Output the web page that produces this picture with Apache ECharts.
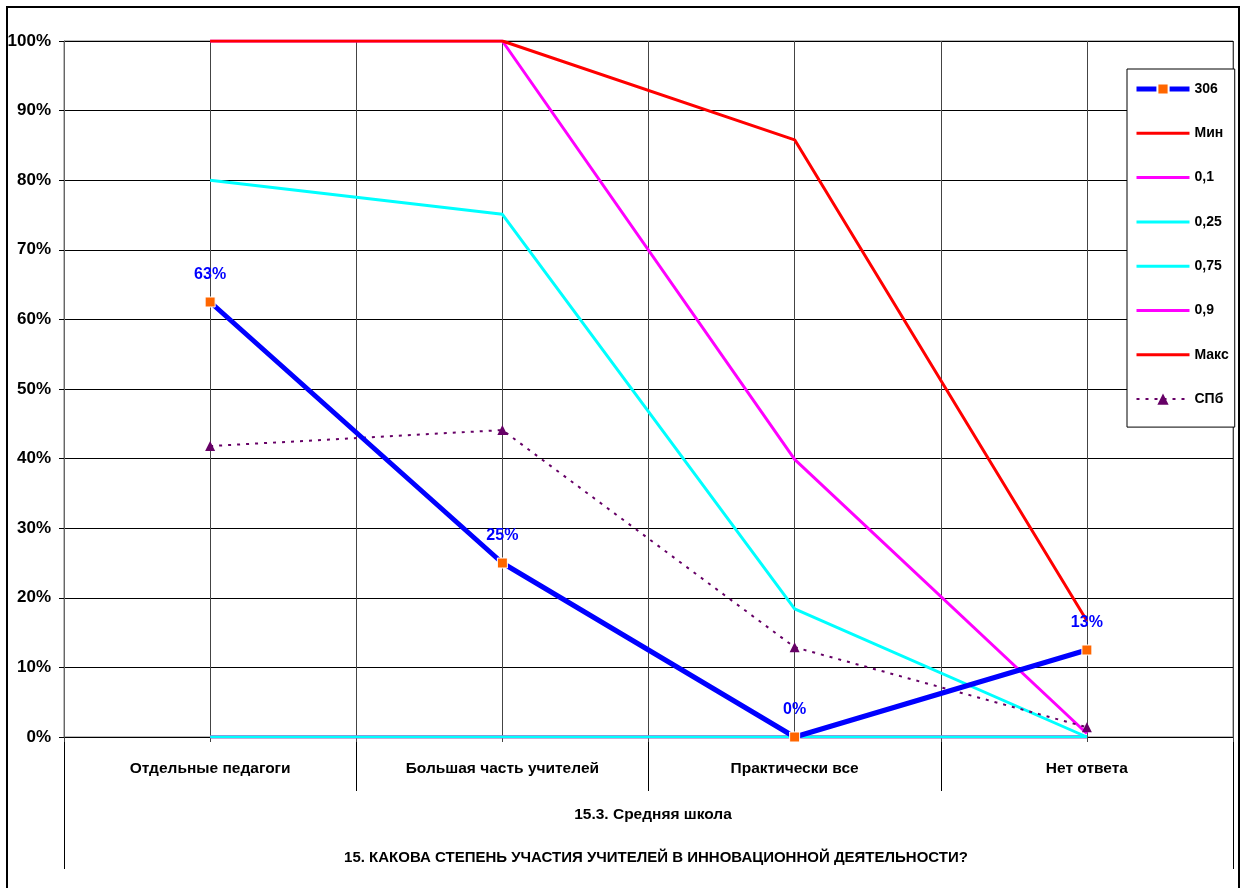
<!DOCTYPE html>
<html><head><meta charset="utf-8">
<script src="https://cdn.jsdelivr.net/npm/echarts@6/dist/echarts.min.js"></script>
<style>html,body{margin:0;padding:0;background:#fff}#c{width:1245px;height:888px}</style>
</head><body><div id="c"></div>
<script>
const categories = ['Отдельные педагоги', 'Большая часть учителей', 'Практически все', 'Нет ответа'];
const yTicks = [0, 10, 20, 30, 40, 50, 60, 70, 80, 90, 100];
const s306 = [62.5, 25, 0, 12.5];
const sMin = [0, 0, 0, 0];
const s01 = [0, 0, 0, 0];
const s025 = [0, 0, 0, 0];
const s075 = [80, 75.1, 18.4, 0];
const s09 = [100, 100, 39.9, 0.5];
const sMax = [100, 100, 85.8, 16.7];
const sSpb = [41.8, 44.1, 12.9, 1.4];
const subtitle = '15.3. Средняя школа';
const title = '15. КАКОВА СТЕПЕНЬ УЧАСТИЯ УЧИТЕЛЕЙ В ИННОВАЦИОННОЙ ДЕЯТЕЛЬНОСТИ?';

const FONT = '"Liberation Sans", Arial, sans-serif';
const chart = echarts.init(document.getElementById('c'), null, {renderer: 'canvas'});

function plain(name, data, color, z) {
  return {name, type: 'line', data, symbol: 'none', z: z || 2,
    lineStyle: {color, width: 3}, itemStyle: {color: 'rgba(0,0,0,0)', borderWidth: 0}, animation: false};
}

chart.setOption({
  backgroundColor: '#fff',
  animation: false,
  textStyle: {fontFamily: FONT},
  grid: {left: 64, right: 12, top: 41, bottom: 151, show: true, borderColor: '#777', borderWidth: 1, backgroundColor: 'transparent'},
  title: [
    {text: subtitle, left: 648, top: 802, textAlign: 'center',
     textStyle: {fontFamily: FONT, fontSize: 15.5, fontWeight: 'bold', color: '#000'}},
    {text: title, left: 651, top: 845, textAlign: 'center',
     textStyle: {fontFamily: FONT, fontSize: 15, fontWeight: 'bold', color: '#000'}}
  ],
  legend: {
    orient: 'vertical', left: 1127, top: 69,
    backgroundColor: '#fff', borderColor: '#000', borderWidth: 1,
    padding: [13, 6, 21, 7], itemWidth: 53, itemHeight: 14, itemGap: 30.3,
    lineStyle: {width: 'inherit'},
    textStyle: {fontFamily: FONT, fontSize: 14, fontWeight: 'bold', color: '#000'},
    data: ['306', 'Мин', '0,1', '0,25', '0,75', '0,9', 'Макс', 'СПб']
  },
  xAxis: [
    {type: 'category', data: categories, boundaryGap: true,
     axisLine: {show: true, lineStyle: {color: '#000', width: 1}},
     axisTick: {show: true, interval: 0, length: 54, lineStyle: {color: '#000'}},
     axisLabel: {interval: 0, margin: 24, fontFamily: FONT, fontSize: 15.5, fontWeight: 'bold', color: '#000'},
     splitLine: {show: true, interval: 0, lineStyle: {color: '#222', width: 1}}},
    {type: 'value', min: 0, max: 4, interval: 0.5, position: 'bottom',
     axisLine: {show: false}, axisLabel: {show: false},
     axisTick: {show: true, length: 5, lineStyle: {color: '#444'}},
     splitLine: {show: true, lineStyle: {color: '#444', width: 1}}}
  ],
  yAxis: {
    type: 'value', min: yTicks[0], max: yTicks[yTicks.length - 1], interval: 10,
    axisLine: {show: true, lineStyle: {color: '#666'}},
    axisTick: {show: true, length: 5, lineStyle: {color: '#000'}},
    axisLabel: {formatter: '{value}%', margin: 13, fontFamily: FONT, fontSize: 17, fontWeight: 'bold', color: '#000'},
    splitLine: {show: true, lineStyle: {color: '#000', width: 1}}
  },
  series: [
    {name: '306', type: 'line', data: s306, z: 4, symbol: 'rect', symbolSize: 10,
     lineStyle: {color: '#0000FF', width: 5}, itemStyle: {color: '#FF6600', borderColor: '#fff', borderWidth: 1},
     label: {show: true, position: 'top', distance: 14, formatter: p => Math.round(p.value) + '%',
       fontFamily: FONT, fontSize: 16, fontWeight: 'bold', color: '#0000FF'}},
    plain('Мин', sMin, '#FF0000'),
    plain('0,1', s01, '#FF00FF'),
    plain('0,25', s025, '#00FFFF'),
    plain('0,75', s075, '#00FFFF'),
    plain('0,9', s09, '#FF00FF'),
    plain('Макс', sMax, '#FF0000'),
    {name: 'СПб', type: 'line', data: sSpb, z: 3, symbol: 'triangle', symbolSize: 10,
     lineStyle: {color: '#660066', width: 2, type: [3, 6]}, itemStyle: {color: '#660066'}}
  ],
  graphic: [
    {type: 'rect', shape: {x: 7, y: 7, width: 1232, height: 900}, style: {fill: 'none', stroke: '#000', lineWidth: 2}, silent: true},
    {type: 'line', shape: {x1: 64.5, y1: 737, x2: 64.5, y2: 869}, style: {stroke: '#000', lineWidth: 1}, silent: true},
    {type: 'line', shape: {x1: 1233.5, y1: 737, x2: 1233.5, y2: 869}, style: {stroke: '#000', lineWidth: 1}, silent: true}
  ]
});
</script></body></html>
